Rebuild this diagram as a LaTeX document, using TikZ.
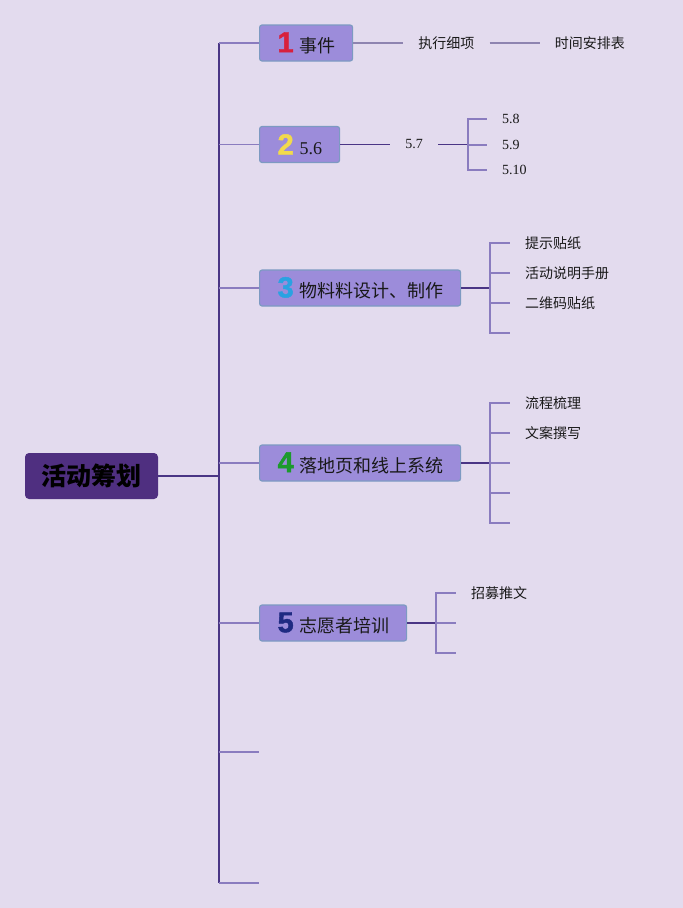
\documentclass[tikz,border=0pt]{standalone}
\usepackage{fontspec}
\setmainfont{Liberation Serif}
\newfontfamily\cjk{Noto Sans CJK SC}
\newfontfamily\numfont[BoldFeatures={FakeBold=1.5}]{Liberation Sans}
\usepackage{tikz}
\usetikzlibrary{positioning}

\definecolor{bgcol}{HTML}{E3DBEE}
\definecolor{rootcol}{HTML}{4F2F80}
\definecolor{boxfill}{HTML}{9C8CDA}
\definecolor{boxedge}{HTML}{7D9AC2}
\definecolor{darkline}{HTML}{4A3585}
\definecolor{softline}{HTML}{8A7CBF}
\definecolor{greyline}{HTML}{8E84B0}
\definecolor{numA}{HTML}{D8203C}
\definecolor{numB}{HTML}{F2DA4C}
\definecolor{numC}{HTML}{2AA2E2}
\definecolor{numD}{HTML}{1C9A2C}
\definecolor{numE}{HTML}{1F2A82}

\newcommand{\bignum}[2]{{\numfont\bfseries\fontsize{29}{29}\selectfont\textcolor{#1}{#2}}\kern6pt}

\tikzset{
  rootbox/.style={fill=rootcol, rounded corners=4pt, minimum width=133pt,
    minimum height=46pt, text=black, font=\cjk\bfseries\fontsize{25}{25}\selectfont},
  topic/.style={anchor=west, fill=boxfill, draw=boxedge, line width=1.2pt,
    rounded corners=2.5pt, minimum height=36pt, inner xsep=18pt, inner ysep=3pt,
    text width=#1, align=left, text=black!90, font=\cjk\fontsize{18}{18}\selectfont},
  leaf/.style={anchor=west, inner xsep=15pt, inner ysep=2pt, text=black!90,
    font=\cjk\fontsize{14}{14}\selectfont},
  numleaf/.style={leaf, font=\fontsize{14}{14}\selectfont},
  trunkline/.style={darkline, line width=1.6pt},
  branchline/.style={softline, line width=1.4pt},
  linkline/.style={darkline, line width=1.6pt},
  tickline/.style={softline, line width=1.4pt},
  plainline/.style={greyline, line width=1.4pt}
}

\begin{document}
\begin{tikzpicture}[x=1pt, y=-1pt]
  \fill[bgcol] (0,0) rectangle (683,908);
  \useasboundingbox (0,0) rectangle (683,908);

  % central topic
  \node[rootbox] (root) at (91.5,476) {活动筹划};
  \coordinate (trunk) at (219,476);

  % main topics
  \node[topic=57pt]  (t1) at (259,43)    {\bignum{numA}{1}事件};
  \node[topic=44pt]  (t2) at (259,144.5) {\bignum{numB}{2}{\rmfamily 5.6}};
  \node[topic=165pt] (t3) at (259,288)   {\bignum{numC}{3}物料料设计、制作};
  \node[topic=165pt] (t4) at (259,463)   {\bignum{numD}{4}落地页和线上系统};
  \node[topic=111pt] (t5) at (259,623)   {\bignum{numE}{5}志愿者培训};
  \coordinate (e6) at (259,752);
  \coordinate (e7) at (259,883);

  % trunk and branches
  \draw[trunkline] (root.east) -- (trunk);
  \draw[trunkline] (trunk |- t1.west) -- (trunk |- e7);
  \foreach \t in {t1,t2,t3,t4,t5}
    \draw[branchline] (trunk |- \t.west) -- (\t.west);
  \foreach \t in {e6,e7}
    \draw[branchline] (trunk |- \t) -- (\t);

  % topic 1
  \node[leaf, right=50pt of t1] (s11) {执行细项};
  \node[leaf, right=50pt of s11] (s12) {时间安排表};
  \draw[plainline] (t1.east) -- (s11.west);
  \draw[plainline] (s11.east) -- (s12.west);

  % topic 2
  \node[numleaf, right=50pt of t2] (s2) {5.7};
  \coordinate[right=30pt of s2] (b2);
  \node[numleaf] (c21) at (487,119) {5.8};
  \node[numleaf] (c22) at (487,145) {5.9};
  \node[numleaf] (c23) at (487,170) {5.10};
  \draw[linkline] (t2.east) -- (s2.west);
  \draw[linkline] (s2.east) -- (b2);
  \foreach \c in {c21,c22,c23}
    \draw[tickline] (b2) |- (\c.west);

  % topic 3
  \coordinate (b3) at (490,288);
  \node[leaf] (c31) at (510,243) {提示贴纸};
  \node[leaf] (c32) at (510,273) {活动说明手册};
  \node[leaf] (c33) at (510,303) {二维码贴纸};
  \coordinate (e34) at (510,333);
  \draw[linkline] (t3.east) -- (b3);
  \foreach \c in {c31,c32,c33}
    \draw[tickline] (b3) |- (\c.west);
  \draw[tickline] (b3) |- (e34);

  % topic 4
  \coordinate (b4) at (490,463);
  \node[leaf] (c41) at (510,403) {流程梳理};
  \node[leaf] (c42) at (510,433) {文案撰写};
  \coordinate (e43) at (510,463);
  \coordinate (e44) at (510,493);
  \coordinate (e45) at (510,523);
  \draw[linkline] (t4.east) -- (b4);
  \foreach \c in {c41,c42}
    \draw[tickline] (b4) |- (\c.west);
  \foreach \c in {e43,e44,e45}
    \draw[tickline] (b4) |- (\c);

  % topic 5
  \coordinate (b5) at (436,623);
  \node[leaf] (c51) at (456,593) {招募推文};
  \coordinate (e52) at (456,623);
  \coordinate (e53) at (456,653);
  \draw[linkline] (t5.east) -- (b5);
  \draw[tickline] (b5) |- (c51.west);
  \foreach \c in {e52,e53}
    \draw[tickline] (b5) |- (\c);
\end{tikzpicture}
\end{document}
